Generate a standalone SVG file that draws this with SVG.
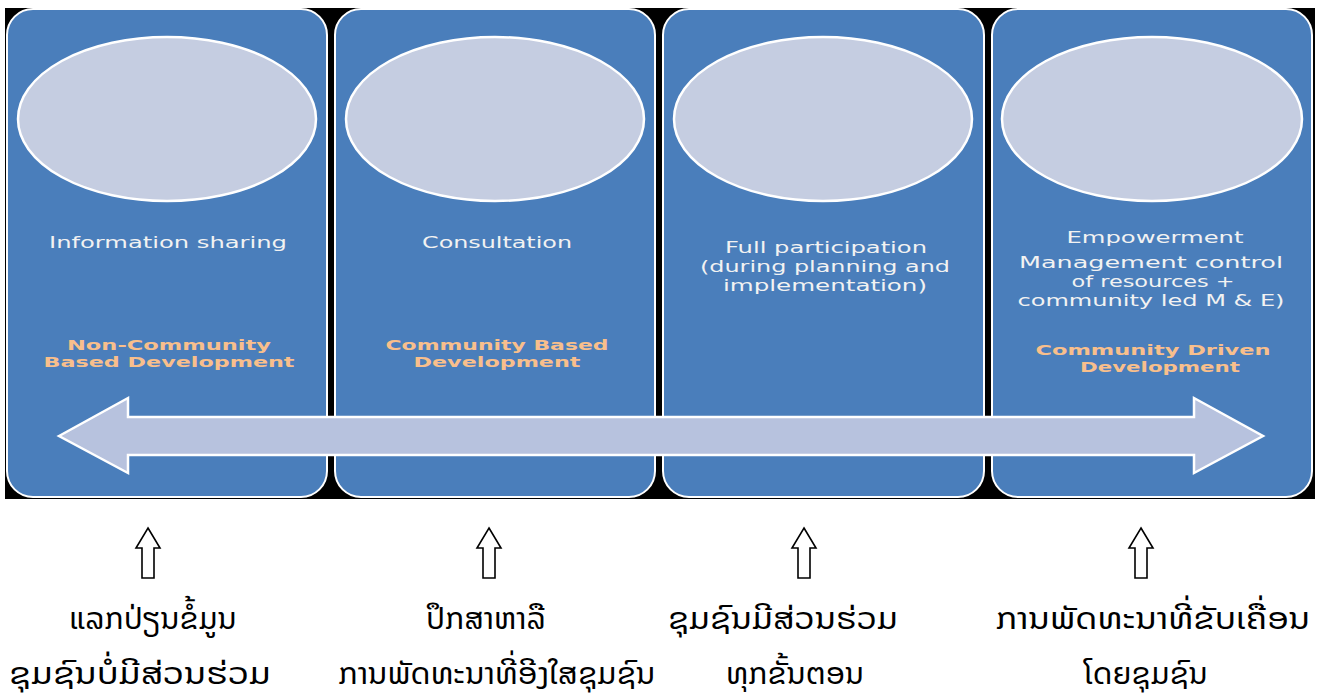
<svg xmlns="http://www.w3.org/2000/svg" width="1319" height="700" viewBox="0 0 1319 700">
<style>
.panel{fill:#4a7ebb;stroke:#ffffff;stroke-width:2}
.oval{fill:#c5cde1;stroke:#ffffff;stroke-width:2.5}
.w{font-family:"DejaVu Sans","Liberation Sans",sans-serif;font-size:16px;fill:#f2f2f2;text-anchor:middle}
.o{font-family:"DejaVu Sans","Liberation Sans",sans-serif;font-size:14px;font-weight:bold;fill:#f8bf8c;text-anchor:middle}
.lao{font-family:"Noto Sans Lao","DejaVu Sans",sans-serif;font-size:31px;fill:#000000;text-anchor:middle}
.up{fill:#ffffff;stroke:#000000;stroke-width:1.6;stroke-linejoin:miter}
.big{fill:#b7c2de;stroke:#ffffff;stroke-width:2.5}
</style>
<defs>
<path id="uparrow" d="M0,0 L12,20 L6,20 L6,50 L-6,50 L-6,20 L-12,20 Z"/>
</defs>
<rect x="0" y="0" width="1319" height="700" fill="#ffffff"/>
<rect x="5" y="8" width="1310" height="491" fill="#000000"/>

<g id="panel-information-sharing">
<rect class="panel" x="7" y="9" width="320" height="488" rx="26"/>
<ellipse class="oval" cx="167" cy="119" rx="149" ry="82"/>
<text class="w" x="168" y="248" textLength="238" lengthAdjust="spacingAndGlyphs">Information sharing</text>
<text class="o" x="169" y="350" textLength="204" lengthAdjust="spacingAndGlyphs">Non-Community</text>
<text class="o" x="169" y="367" textLength="251" lengthAdjust="spacingAndGlyphs">Based Development</text>
</g>

<g id="panel-consultation">
<rect class="panel" x="335" y="9" width="320" height="488" rx="26"/>
<ellipse class="oval" cx="495" cy="119" rx="149" ry="82"/>
<text class="w" x="497" y="248" textLength="150" lengthAdjust="spacingAndGlyphs">Consultation</text>
<text class="o" x="497" y="350" textLength="223" lengthAdjust="spacingAndGlyphs">Community Based</text>
<text class="o" x="497" y="367" textLength="167" lengthAdjust="spacingAndGlyphs">Development</text>
</g>

<g id="panel-full-participation">
<rect class="panel" x="663" y="9" width="321" height="488" rx="26"/>
<ellipse class="oval" cx="823" cy="119" rx="149" ry="82"/>
<text class="w" x="826" y="253" textLength="202" lengthAdjust="spacingAndGlyphs">Full participation</text>
<text class="w" x="825" y="272" textLength="250" lengthAdjust="spacingAndGlyphs">(during planning and</text>
<text class="w" x="825" y="291" textLength="204" lengthAdjust="spacingAndGlyphs">implementation)</text>
</g>

<g id="panel-empowerment">
<rect class="panel" x="992" y="9" width="320" height="488" rx="26"/>
<ellipse class="oval" cx="1152" cy="119" rx="150" ry="82"/>
<text class="w" x="1155" y="243" textLength="177" lengthAdjust="spacingAndGlyphs">Empowerment</text>
<text class="w" x="1151" y="268" textLength="264" lengthAdjust="spacingAndGlyphs">Management control</text>
<text class="w" x="1153" y="287" textLength="163" lengthAdjust="spacingAndGlyphs">of resources +</text>
<text class="w" x="1151" y="306" textLength="267" lengthAdjust="spacingAndGlyphs">community led M &amp; E)</text>
<text class="o" x="1153" y="355" textLength="235" lengthAdjust="spacingAndGlyphs">Community Driven</text>
<text class="o" x="1160" y="372" textLength="160" lengthAdjust="spacingAndGlyphs">Development</text>
</g>

<g id="connectors">
<path class="big" d="M59,436 L128,398 L128,417 L1194,417 L1194,398 L1263,436 L1194,473 L1194,455 L128,455 L128,473 Z"/>
<use href="#uparrow" class="up" x="148" y="528"/>
<use href="#uparrow" class="up" x="489" y="528"/>
<use href="#uparrow" class="up" x="804" y="528"/>
<use href="#uparrow" class="up" x="1141" y="528"/>
</g>

<g id="label-1">
<text class="lao" x="153" y="629">ແລກປ່ຽນຂໍ້ມູນ</text>
<text class="lao" x="140" y="684" textLength="262" lengthAdjust="spacingAndGlyphs">ຊຸມຊົນບໍ່ມີສ່ວນຮ່ວມ</text>
</g>
<g id="label-2">
<text class="lao" x="486" y="629">ປຶກສາຫາລື</text>
<text class="lao" x="497" y="684" textLength="317" lengthAdjust="spacingAndGlyphs">ການພັດທະນາທີ່ອີງໃສຊຸມຊົນ</text>
</g>
<g id="label-3">
<text class="lao" x="783" y="629" textLength="230" lengthAdjust="spacingAndGlyphs">ຊຸມຊົນມີສ່ວນຮ່ວມ</text>
<text class="lao" x="795" y="684">ທຸກຂັ້ນຕອນ</text>
</g>
<g id="label-4">
<text class="lao" x="1153" y="629" textLength="314" lengthAdjust="spacingAndGlyphs">ການພັດທະນາທີ່ຂັບເຄື່ອນ</text>
<text class="lao" x="1146" y="684">ໂດຍຊຸມຊົນ</text>
</g>
</svg>
